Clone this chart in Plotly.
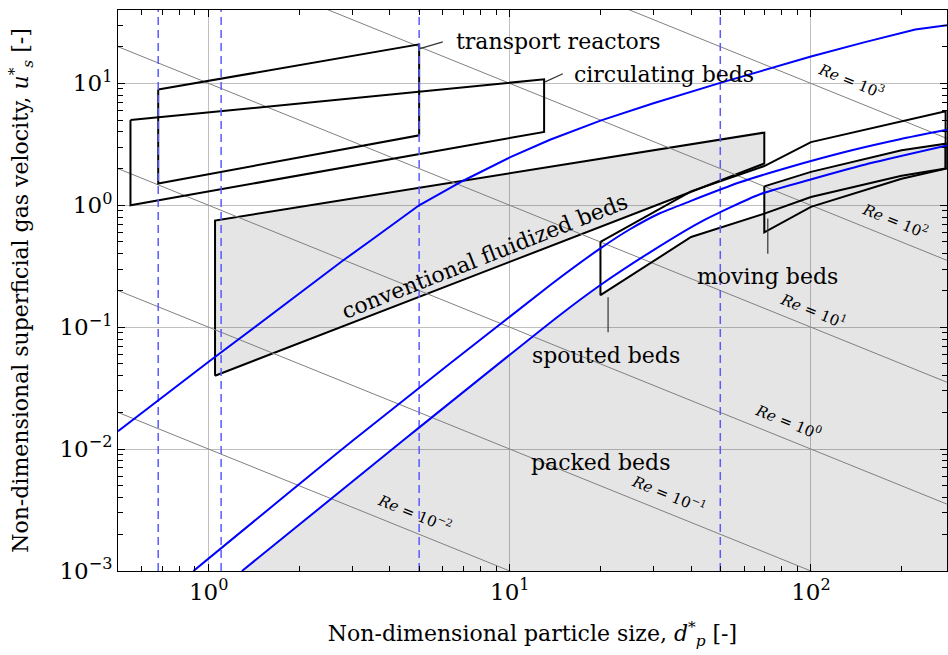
import math
import plotly.graph_objects as go

# ---------------- data ----------------
X_MIN, X_MAX = 0.5, 283.0
Y_MIN, Y_MAX = 1e-3, 40.0

dash_x = [0.68, 1.1, 5.0, 50.0]

re_values = [1e-2, 1e-1, 1e0, 1e1, 1e2, 1e3]

# terminal-velocity type curve (upper blue)
term_x = [0.5, 1.0, 2.0, 2.8, 3.5, 5.0, 7.0, 10.0, 13.6, 20.0, 30.0, 50.0, 100.0, 150.0, 222.0, 283.0]
term_y = [0.014, 0.052, 0.189, 0.354, 0.526, 1.0, 1.59, 2.47, 3.45, 4.95, 6.88, 10.1, 16.6, 21.7, 27.7, 30.0]

# minimum-fluidization curves (lower blue pair)
mfa_x = [0.89, 3.02, 13.6, 19.93, 25.06, 31.5, 39.6, 58.1, 85.1, 134.6, 197.5, 283.0]
mfa_y = [0.001, 0.0118, 0.221, 0.441, 0.636, 0.86, 1.078, 1.544, 2.062, 2.80, 3.48, 4.16]
mfb_x = [1.29, 4.43, 14.68, 20.0, 29.2, 42.8, 67.7, 100.4, 156.9, 283.0]
mfb_y = [0.001, 0.0118, 0.126, 0.222, 0.4115, 0.725, 1.231, 1.633, 2.21, 3.10]

# regime boxes
transport_x = [0.68, 5.0, 5.0, 0.68]
transport_y = [8.9, 20.9, 3.75, 1.51]
circulating_x = [0.55, 13.0, 13.0, 0.55]
circulating_y = [5.0, 10.8, 4.0, 1.0]
fluidized_x = [1.05, 1.05, 70.0, 70.0]
fluidized_y = [0.04, 0.75, 3.95, 2.2]

spout_top_x = [20.0, 40.0, 70.0, 100.0, 280.0]
spout_top_y = [0.5, 1.3, 2.1, 3.3, 5.9]
spout_bot_x = [20.0, 40.0, 70.0, 100.0, 200.0, 280.0]
spout_bot_y = [0.183, 0.55, 0.855, 1.17, 1.75, 2.0]

move_top_x = [70.0, 100.0, 200.0, 280.0]
move_top_y = [1.43, 1.88, 2.83, 3.2]
move_bot_x = [70.0, 100.0, 200.0, 280.0]
move_bot_y = [0.6, 0.97, 1.65, 2.0]

x_tick_vals = [1, 10, 100]
x_tick_text = ["10<sup>0</sup>", "10<sup>1</sup>", "10<sup>2</sup>"]
y_tick_vals = [1e-3, 1e-2, 1e-1, 1e0, 1e1]
y_tick_text = ["10<sup>−3</sup>", "10<sup>−2</sup>", "10<sup>−1</sup>",
               "10<sup>0</sup>", "10<sup>1</sup>"]

# ---------------- styles ----------------
FONT = "DejaVu Serif"
GREY_FILL = "rgba(0,0,0,0.10)"
BLUE = "#0000ff"
DASH_BLUE = "#5a5aff"

fig = go.Figure()

# packed-bed shaded region (below the lower boundary)
i20 = mfb_x.index(20.0)
packed_x = mfb_x[: i20 + 1] + spout_bot_x[:3] + move_top_x + [X_MAX, X_MAX]
packed_y = mfb_y[: i20 + 1] + spout_bot_y[:3] + move_top_y + [move_top_y[-1], Y_MIN]
fig.add_trace(go.Scatter(x=packed_x, y=packed_y, mode="lines", fill="toself",
                         fillcolor=GREY_FILL, line=dict(width=0),
                         hoverinfo="skip", showlegend=False))

# conventional fluidized beds (shaded)
fig.add_trace(go.Scatter(x=fluidized_x + fluidized_x[:1], y=fluidized_y + fluidized_y[:1],
                         mode="lines", fill="toself", fillcolor=GREY_FILL,
                         line=dict(color="black", width=2),
                         hoverinfo="skip", showlegend=False))

# constant-Re lines
for re in re_values:
    fig.add_trace(go.Scatter(x=[X_MIN, X_MAX], y=[re / X_MIN, re / X_MAX],
                             mode="lines", line=dict(color="#808080", width=1),
                             hoverinfo="skip", showlegend=False))

def box(xs, ys):
    fig.add_trace(go.Scatter(x=xs + xs[:1], y=ys + ys[:1], mode="lines",
                             line=dict(color="black", width=2),
                             hoverinfo="skip", showlegend=False))

box(transport_x, transport_y)
box(circulating_x, circulating_y)
box(spout_top_x + spout_bot_x[::-1], spout_top_y + spout_bot_y[::-1])
box(move_top_x + move_bot_x[::-1], move_top_y + move_bot_y[::-1])

# dashed vertical lines
for xv in dash_x:
    fig.add_trace(go.Scatter(x=[xv, xv], y=[Y_MIN, Y_MAX], mode="lines",
                             line=dict(color=DASH_BLUE, width=1.5, dash="8px,5px"),
                             hoverinfo="skip", showlegend=False))

# blue curves
fig.add_trace(go.Scatter(x=term_x, y=term_y, mode="lines",
                         line=dict(color=BLUE, width=2),
                         hoverinfo="skip", showlegend=False))
for xs, ys in [(mfa_x, mfa_y), (mfb_x, mfb_y)]:
    fig.add_trace(go.Scatter(x=xs, y=ys, mode="lines",
                             line=dict(color=BLUE, width=2, shape="spline", smoothing=0.6),
                             hoverinfo="skip", showlegend=False))

# pointer lines
pointers = [
    ((5.03, 19.3), (5.99, 21.9)),
    ((13.1, 10.3), (15.0, 12.0)),
    ((21.2, 0.176), (21.2, 0.091)),
    ((71.9, 0.78), (71.9, 0.40)),
]
for (xa, ya), (xb, yb) in pointers:
    fig.add_shape(type="line", x0=xa, y0=ya, x1=xb, y1=yb, xref="x", yref="y",
                  line=dict(color="#333333", width=1.2))

# ---------------- annotations (paper coords) ----------------
L, W, B, H = 118, 829, 571, 561
def px(xp, yp):
    return (xp - L) / W, (B - yp) / H

labels = [
    ("transport reactors", 557.5, 42, 0, 22),
    ("circulating beds", 664, 74, 0, 22),
    ("conventional fluidized beds", 484, 256, -21.5, 22),
    ("spouted beds", 606, 355, 0, 22),
    ("moving beds", 767, 276, 0, 22),
    ("packed beds", 600, 462, 0, 22),
    ("<i>Re</i> = 10<sup>3</sup>", 851, 80, 22, 15),
    ("<i>Re</i> = 10<sup>2</sup>", 895, 220, 22, 15),
    ("<i>Re</i> = 10<sup>1</sup>", 813, 310, 22, 15),
    ("<i>Re</i> = 10<sup>0</sup>", 788, 421, 22, 15),
    ("<i>Re</i> = 10<sup>−1</sup>", 669, 494, 22, 15),
    ("<i>Re</i> = 10<sup>−2</sup>", 415, 513, 22, 15),
]
for text, xp_, yp_, ang, size in labels:
    xx, yy = px(xp_, yp_)
    fig.add_annotation(text=text, x=xx, y=yy, xref="paper", yref="paper",
                       showarrow=False, textangle=ang, xanchor="center",
                       yanchor="middle", font=dict(family=FONT, size=size, color="black"))

def minor_vals(lo_exp, hi_exp, lo, hi):
    vals = []
    for e in range(lo_exp, hi_exp + 1):
        for m in range(2, 10):
            v = m * 10 ** e
            if lo <= v <= hi:
                vals.append(v)
    return vals

axis_common = dict(
    type="log", showgrid=True, gridcolor="#c0c0c0", gridwidth=1,
    ticks="inside", ticklen=7, tickcolor="black", tickwidth=1,
    showline=True, linecolor="black", linewidth=1, mirror="allticks",
    zeroline=False, tickfont=dict(family=FONT, size=23, color="black"),
)

fig.update_layout(
    width=948, height=655,
    margin=dict(l=118, r=1, t=10, b=84),
    plot_bgcolor="white", paper_bgcolor="white",
    showlegend=False,
    xaxis=dict(
        range=[math.log10(X_MIN), math.log10(X_MAX)],
        tickvals=x_tick_vals, ticktext=x_tick_text,
        minor=dict(tickvals=minor_vals(-1, 2, X_MIN, X_MAX), ticks="inside",
                   ticklen=5, tickcolor="black", showgrid=False),
        title=dict(text="Non-dimensional particle size, <i>d</i><sup>*</sup><sub><i>p</i></sub> [-]",
                   font=dict(family=FONT, size=22, color="black"), standoff=22),
        automargin=False,
        **axis_common,
    ),
    yaxis=dict(
        range=[math.log10(Y_MIN), math.log10(Y_MAX)],
        tickvals=y_tick_vals, ticktext=y_tick_text,
        minor=dict(tickvals=minor_vals(-3, 1, Y_MIN, Y_MAX), ticks="inside",
                   ticklen=5, tickcolor="black", showgrid=False),
        title=dict(text="Non-dimensional superficial gas velocity, <i>u</i><sup>*</sup><sub><i>s</i></sub> [-]",
                   font=dict(family=FONT, size=22, color="black"), standoff=24),
        automargin=False,
        **axis_common,
    ),
)

fig.write_html("out.html")
